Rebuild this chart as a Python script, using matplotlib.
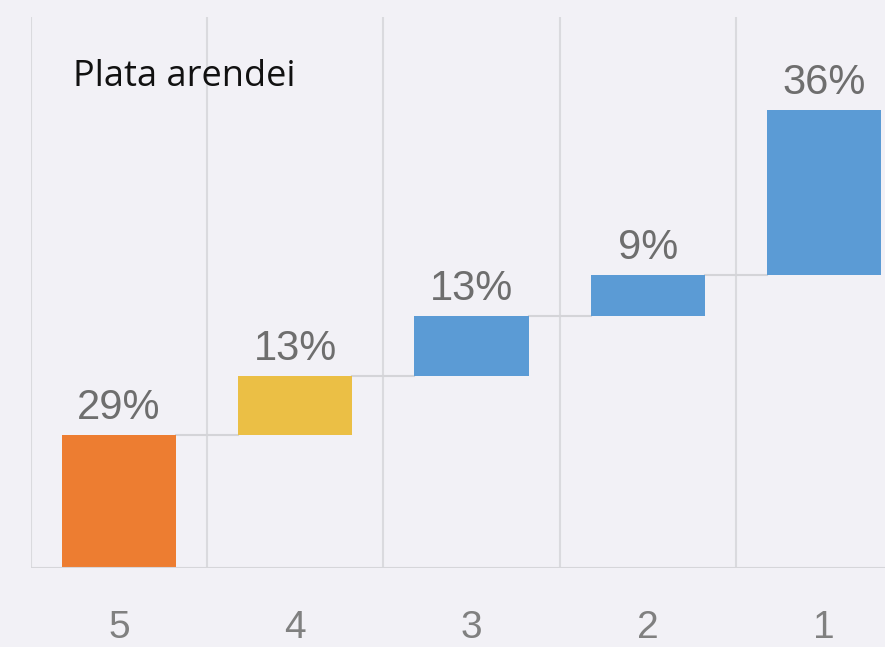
import numpy as np
import matplotlib
matplotlib.use("Agg")
import matplotlib.pyplot as plt

categories = ["5", "4", "3", "2", "1"]
values = [29, 13, 13, 9, 36]
labels = ["29%", "13%", "13%", "9%", "36%"]
colors = ["#ED7D31", "#EBBF45", "#5B9BD5", "#5B9BD5", "#5B9BD5"]
title = "Plata arendei"

bg = "#F2F1F6"
fig = plt.figure(figsize=(8.85, 6.47), dpi=100, facecolor=bg)
ax = fig.add_axes([0.035, 0.1221, 0.9955, 0.8516])
ax.set_facecolor(bg)

x = np.arange(len(values))
tops = np.cumsum(values)
bottoms = tops - np.array(values)
w = 0.648

ax.bar(x, values, bottom=bottoms, width=w, color=colors, zorder=3)

# connector lines between bars
for i in range(len(values) - 1):
    ax.plot([x[i] + w / 2, x[i + 1] - w / 2], [tops[i], tops[i]],
            color="#D4D4D8", lw=1.5, zorder=2)

for xi, t, lab in zip(x, tops, labels):
    ax.text(xi, t + 1.5, lab, ha="center", va="bottom", fontsize=30,
            color="#6E6E6E", family="Liberation Sans")

ax.set_xlim(-0.5, 4.5)
ax.set_ylim(0, 120.3)

# vertical category separators
for b in np.arange(-0.5, 4.6, 1):
    ax.axvline(b, color="#DADADE", lw=1.5, zorder=1)
ax.axhline(0, color="#D6D6DA", lw=1.5, zorder=4)

ax.set_xticks(x)
ax.set_xticklabels(categories, fontsize=28, color="#808080", family="Liberation Sans")
ax.tick_params(axis="x", length=0, pad=30)
ax.set_yticks([])
for s in ax.spines.values():
    s.set_visible(False)

fig.text(73 / 885, 1 - 77 / 647, title, fontsize=26, color="#111111",
         family="Open Sans", va="center", ha="left")

fig.savefig("out.png", dpi=100, facecolor=bg)
